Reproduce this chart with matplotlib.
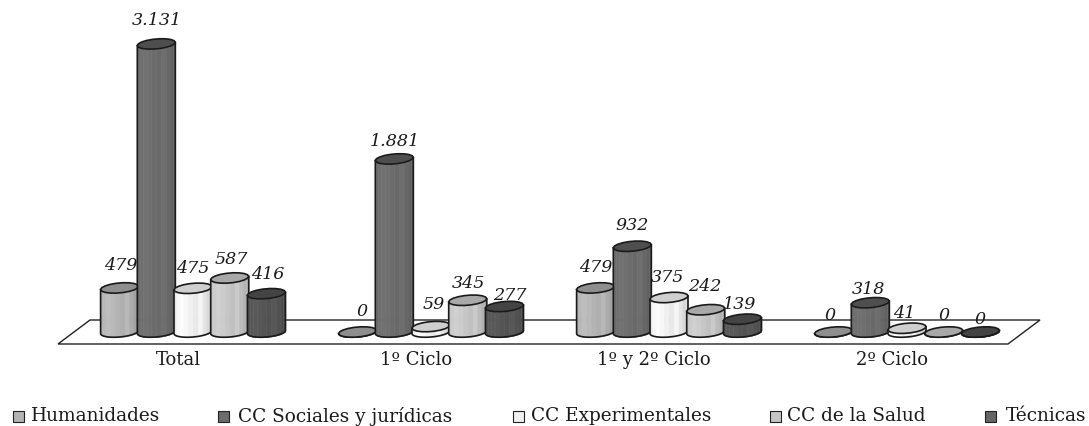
import numpy as np
import matplotlib
matplotlib.use('Agg')
import matplotlib.pyplot as plt
from matplotlib.transforms import Affine2D
from matplotlib.patches import Polygon, Rectangle

plt.rcParams['font.family'] = ['DejaVu Serif']

groups = ['Total', '1º Ciclo', '1º y 2º Ciclo', '2º Ciclo']
series = ['Humanidades', 'CC Sociales y jurídicas', 'CC Experimentales', 'CC de la Salud', 'Técnicas']
humanidades = [479, 0, 479, 0]
sociales = [3131, 1881, 932, 318]
experimentales = [475, 59, 375, 41]
salud = [587, 345, 242, 0]
tecnicas = [416, 277, 139, 0]
values = [humanidades, sociales, experimentales, salud, tecnicas]

body_cols = ['#b4b4b4', '#6c6c6c', '#f0f0f0', '#c6c6c6', '#555555']
cap_cols = ['#8e8e8e', '#4e4e4e', '#cfcfcf', '#a8a8a8', '#444444']

# label nudges in pixels, per series and group
lab_dx = [[1, 4, 0, -4], [1, 1, 0, -2], [0, 3, -2, -3], [2, 1, -1, 0], [1, 5, -3, 0]]
lab_dy = [[22, 20, 20, 17], [23, 17, 21, 13], [20, 22, 20, 15], [18, 17, 23, 16], [19, 11, 15, 12]]

W, H = 1089, 426
fig = plt.figure(figsize=(W / 100, H / 100), dpi=100)
ax = fig.add_axes([0, 0, 1, 1])

# one group = 238 px, one value unit = 0.092 px
px_x = 238.0
px_y = 0.092
ax.set_xlim(-193 / px_x, (W - 193) / px_x)
ax.set_ylim(-(H - 332) / px_y, 332 / px_y)
ax.axis('off')

pixels = Affine2D().scale(1, -1).translate(0, H)

# floor
ax.add_patch(Polygon([(58, 344), (90, 320), (1040, 320), (1008, 344)], closed=True,
                     fc='white', ec='#222222', lw=1.0, transform=pixels, zorder=1))

bar_w = 38 / px_x
step = 36.7 / px_x
cap_h = 5.0 / px_y
skew = 1.6 / px_y
shade = np.array([0.95, 1.0, 1.03, 1.05, 1.03, 1.0, 0.97, 1.02, 0.95, 0.9, 0.93, 0.86])


def rim(cx, cy, t):
    x = cx + bar_w / 2 * np.cos(t)
    y = cy + cap_h * np.sin(t) + skew * np.cos(t)
    return x, y


def draw_bar(cx, val, body, cap, z):
    t = np.linspace(np.pi, 2 * np.pi, 61)
    xb, yb = rim(cx, 0, t)
    ytop = yb + val
    rgb = np.array(matplotlib.colors.to_rgb(body))
    # vertical bands of the cylinder
    n = len(shade)
    for k in range(n):
        a = k * 60 // n
        b = (k + 1) * 60 // n + 1
        c = np.clip(rgb * shade[k], 0, 1)
        ax.fill_between(xb[a:b], yb[a:b], ytop[a:b], color=c, lw=0.4, zorder=z)
    ax.plot(np.r_[xb[0], xb, xb[-1]], np.r_[ytop[0], yb, ytop[-1]], color='#1a1a1a', lw=1.2, zorder=z + 0.1)
    # the top is a rough polygon in the original, few points on purpose
    t2 = np.linspace(0, 2 * np.pi, 19)
    xc, yc = rim(cx, val, t2)
    ax.fill(xc, yc, fc=cap, ec='#1a1a1a', lw=1.2, zorder=z + 0.2)


for s, vals in enumerate(values):
    for g, v in enumerate(vals):
        draw_bar(g + (s - 2) * step, v, body_cols[s], cap_cols[s], 2 + s)
        lab = f'{v:,}'.replace(',', '.')
        ax.annotate(lab, (g + (s - 2) * step, v), xytext=(lab_dx[s][g], lab_dy[s][g]),
                    textcoords='offset pixels', ha='center', va='center', style='italic',
                    fontsize=12.6, color='#1a1a1a', zorder=10)

for g, name in enumerate(groups):
    ax.annotate(name, (g, 0), xytext=(-15, -28), textcoords='offset pixels',
                ha='center', va='center', fontsize=13, color='#1a1a1a', zorder=10)

# legend
sq_x = [13, 218, 513, 770, 985]
text_x = [31, 238, 531, 787, 1006]
leg_cols = ['#b4b4b4', '#6c6c6c', '#f0f0f0', '#c6c6c6', '#666666']
for x, tx, name, c in zip(sq_x, text_x, series, leg_cols):
    ax.add_patch(Rectangle((x, 411), 11, 11, fc=c, ec='#222222', lw=0.8, transform=pixels, zorder=10))
    ax.text(tx, 416, name, transform=pixels, ha='left', va='center', fontsize=13.3, color='#1a1a1a')

fig.savefig('out.png', dpi=100)
